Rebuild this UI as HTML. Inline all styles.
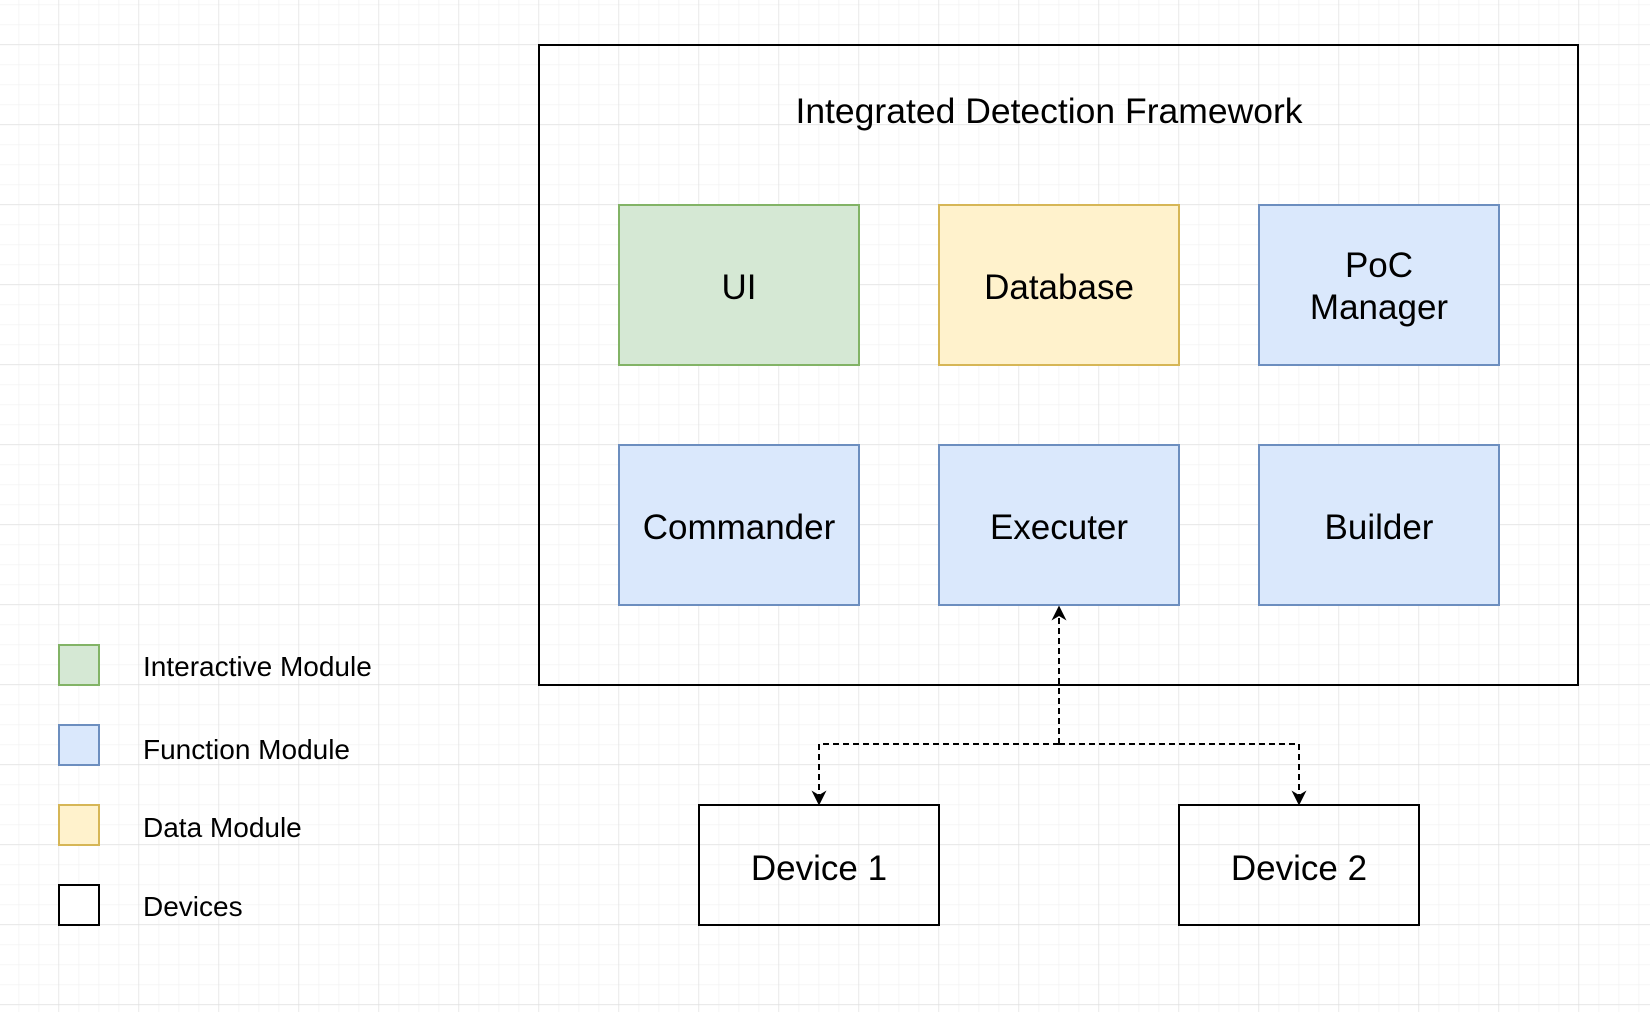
<!DOCTYPE html>
<html><head><meta charset="utf-8"><style>
html,body{margin:0;padding:0;background:#fff}
svg{display:block}
text{font-family:"Liberation Sans",Arial,sans-serif;fill:#000}
</style></head><body>
<svg width="1650" height="1012" viewBox="0 0 1650 1012" xmlns="http://www.w3.org/2000/svg">
<defs>
<pattern id="minor" x="18.5" y="4.3" width="20" height="20" patternUnits="userSpaceOnUse">
<path d="M0 0H20M0 0V20" stroke="#f3f3f3" stroke-width="1.5" fill="none"/>
</pattern>
<pattern id="major" x="58.5" y="44.3" width="80" height="80" patternUnits="userSpaceOnUse">
<path d="M0 0H80M0 0V80" stroke="#dedede" stroke-width="1.2" fill="none"/>
</pattern>
<marker id="ah" viewBox="0 0 10 10" refX="9" refY="5" markerWidth="15" markerHeight="15" orient="auto" markerUnits="userSpaceOnUse">
<path d="M0 0 L10 5 L0 10 L3 5 Z" fill="#000"/>
</marker>
</defs>
<rect width="1650" height="1012" fill="url(#minor)"/>
<rect width="1650" height="1012" fill="url(#major)"/>

<rect x="539" y="45" width="1039" height="640" fill="none" stroke="#000" stroke-width="2"/>
<text x="1049" y="123" font-size="35.5" text-anchor="middle">Integrated Detection Framework</text>

<g stroke-width="2">
<rect x="619" y="205" width="240" height="160" fill="#d5e8d4" stroke="#82b366"/>
<rect x="939" y="205" width="240" height="160" fill="#fff2cc" stroke="#d6b656"/>
<rect x="1259" y="205" width="240" height="160" fill="#dae8fc" stroke="#6c8ebf"/>
<rect x="619" y="445" width="240" height="160" fill="#dae8fc" stroke="#6c8ebf"/>
<rect x="939" y="445" width="240" height="160" fill="#dae8fc" stroke="#6c8ebf"/>
<rect x="1259" y="445" width="240" height="160" fill="#dae8fc" stroke="#6c8ebf"/>
<rect x="699" y="805" width="240" height="120" fill="none" stroke="#000"/>
<rect x="1179" y="805" width="240" height="120" fill="none" stroke="#000"/>
</g>
<g font-size="35" text-anchor="middle">
<text x="739" y="299">UI</text>
<text x="1059" y="299">Database</text>
<text x="1379" y="277">PoC</text>
<text x="1379" y="319">Manager</text>
<text x="739" y="539">Commander</text>
<text x="1059" y="539">Executer</text>
<text x="1379" y="539">Builder</text>
<text x="819" y="880">Device 1</text>
<text x="1299" y="880">Device 2</text>
</g>

<g stroke="#000" stroke-width="2" stroke-dasharray="6 4" fill="none">
<path d="M1059 744 V607" marker-end="url(#ah)"/>
<path d="M1059 744 H819 V804" marker-end="url(#ah)"/>
<path d="M1059 744 H1299 V804" marker-end="url(#ah)"/>
</g>

<g stroke-width="2">
<rect x="59" y="645" width="40" height="40" fill="#d5e8d4" stroke="#82b366"/>
<rect x="59" y="725" width="40" height="40" fill="#dae8fc" stroke="#6c8ebf"/>
<rect x="59" y="805" width="40" height="40" fill="#fff2cc" stroke="#d6b656"/>
<rect x="59" y="885" width="40" height="40" fill="#fff" stroke="#000"/>
</g>
<g font-size="28">
<text x="143" y="676">Interactive Module</text>
<text x="143" y="759">Function Module</text>
<text x="143" y="837">Data Module</text>
<text x="143" y="916">Devices</text>
</g>
</svg>
</body></html>
